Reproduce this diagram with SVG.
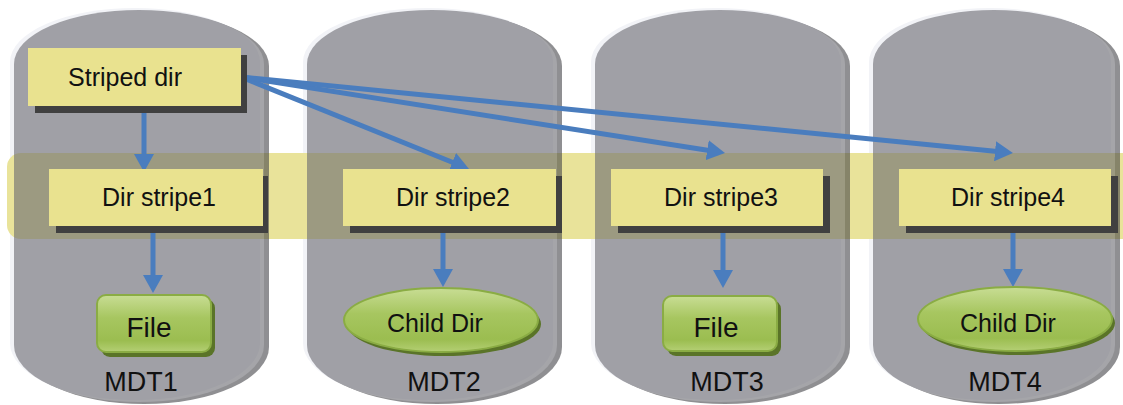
<svg xmlns="http://www.w3.org/2000/svg" width="1123" height="405" viewBox="0 0 1123 405">
  <defs>
    <style>
      .glow { fill: #f2f3f7; }
      .rim { fill: #46464a; }
      .body { fill: #6a6a71; }
      .box { fill: #e9e28f; }
      .shadow { fill: #404040; }
      .gshadow { fill: #5a7428; }
      .green { fill: url(#gg); stroke: #8aac44; stroke-width: 2; }
      .lbl { font-family: "Liberation Sans", Arial, sans-serif; fill: #111; text-anchor: middle; }
      .conn { stroke: #4a7dbe; stroke-width: 5; fill: none; marker-end: url(#ah); }
    </style>
    <linearGradient id="gg" x1="0" y1="0" x2="0" y2="1">
      <stop offset="0" stop-color="#c8dd94"/>
      <stop offset="0.4" stop-color="#a7c660"/>
      <stop offset="0.8" stop-color="#9bbd50"/>
      <stop offset="1" stop-color="#b4cf74"/>
    </linearGradient>
    <marker id="ah" markerUnits="userSpaceOnUse" markerWidth="18" markerHeight="20" viewBox="0 0 18 20" refX="10" refY="10" orient="auto">
      <path d="M0,0 L18,10 L0,20 Z" fill="#4a7dbe"/>
    </marker>
    <path id="cyl" d="M0,54 A125,54 0 0 1 250,54 L250,335 A125,57 0 0 1 0,335 Z"/>
    <path id="cyl4" d="M0,54 A121,54 0 0 1 242,54 L242,335 A121,57 0 0 1 0,335 Z"/>
  </defs>

  <!-- glows -->
  <g id="glows">
    <use href="#cyl" class="glow" x="10" y="8"/>
    <use href="#cyl" class="glow" x="303" y="8"/>
    <use href="#cyl" class="glow" x="591" y="8"/>
    <use href="#cyl4" class="glow" x="869" y="8"/>
  </g>

  <!-- band -->
  <rect id="band" x="7" y="153" width="1130" height="86" rx="14" fill="#e9e39a"/>

  <!-- cylinders -->
  <g id="mdt1" opacity="0.6">
    <use href="#cyl" class="rim" x="19" y="12"/>
    <use href="#cyl" class="body" x="14" y="10"/>
  </g>
  <g id="mdt2" opacity="0.6">
    <use href="#cyl" class="rim" x="312" y="12"/>
    <use href="#cyl" class="body" x="307" y="10"/>
  </g>
  <g id="mdt3" opacity="0.6">
    <use href="#cyl" class="rim" x="600" y="12"/>
    <use href="#cyl" class="body" x="595" y="10"/>
  </g>
  <g id="mdt4" opacity="0.6">
    <use href="#cyl4" class="rim" x="878" y="12"/>
    <use href="#cyl4" class="body" x="873" y="10"/>
  </g>

  <!-- connectors -->
  <g id="connectors">
    <line class="conn" x1="144" y1="106" x2="144" y2="164"/>
    <line class="conn" x1="153" y1="226" x2="153" y2="285"/>
    <line class="conn" x1="443" y1="226" x2="443" y2="279"/>
    <line class="conn" x1="723" y1="226" x2="723" y2="280"/>
    <line class="conn" x1="1013" y1="226" x2="1013" y2="279"/>
    <line class="conn" x1="241" y1="77" x2="461.6" y2="166"/>
    <line class="conn" x1="241" y1="77" x2="717.1" y2="151.8"/>
    <line class="conn" x1="241" y1="77" x2="1005" y2="152.2"/>
  </g>

  <!-- nodes -->
  <g id="striped">
    <rect class="shadow" x="35" y="55" width="212" height="58"/>
    <rect class="box" x="28" y="48" width="213" height="58"/>
    <text class="lbl" x="125" y="86" font-size="25">Striped dir</text>
  </g>
  <g id="stripe1">
    <rect class="shadow" x="56" y="176" width="212" height="57"/>
    <rect class="box" x="49" y="169" width="214" height="57"/>
    <text class="lbl" x="159" y="206" font-size="25">Dir stripe1</text>
  </g>
  <g id="stripe2">
    <rect class="shadow" x="350" y="176" width="212" height="57"/>
    <rect class="box" x="343" y="169" width="213" height="57"/>
    <text class="lbl" x="453" y="206" font-size="25">Dir stripe2</text>
  </g>
  <g id="stripe3">
    <rect class="shadow" x="618" y="176" width="212" height="57"/>
    <rect class="box" x="611" y="169" width="212" height="57"/>
    <text class="lbl" x="721" y="206" font-size="25">Dir stripe3</text>
  </g>
  <g id="stripe4">
    <rect class="shadow" x="906" y="176" width="212" height="57"/>
    <rect class="box" x="899" y="169" width="212" height="57"/>
    <text class="lbl" x="1008" y="206" font-size="25">Dir stripe4</text>
  </g>

  <g id="file1">
    <rect class="gshadow" x="101" y="299" width="114" height="58" rx="9"/>
    <rect class="green" x="97" y="295" width="114" height="57" rx="9"/>
    <text class="lbl" x="149" y="337" font-size="28">File</text>
  </g>
  <g id="child2">
    <ellipse class="gshadow" cx="444" cy="324" rx="97" ry="32"/>
    <ellipse class="green" cx="441" cy="320" rx="97" ry="32"/>
    <text class="lbl" x="435" y="332" font-size="25">Child Dir</text>
  </g>
  <g id="file3">
    <rect class="gshadow" x="667" y="300" width="114" height="56" rx="9"/>
    <rect class="green" x="663" y="296" width="114" height="55" rx="9"/>
    <text class="lbl" x="716" y="337" font-size="28">File</text>
  </g>
  <g id="child4">
    <ellipse class="gshadow" cx="1018" cy="323" rx="97" ry="32"/>
    <ellipse class="green" cx="1015" cy="319" rx="97" ry="32"/>
    <text class="lbl" x="1008" y="332" font-size="25">Child Dir</text>
  </g>

  <g id="labels">
    <text class="lbl" x="141" y="391" font-size="27">MDT1</text>
    <text class="lbl" x="444" y="391" font-size="27">MDT2</text>
    <text class="lbl" x="727" y="391" font-size="27">MDT3</text>
    <text class="lbl" x="1005" y="391" font-size="27">MDT4</text>
  </g>
</svg>
